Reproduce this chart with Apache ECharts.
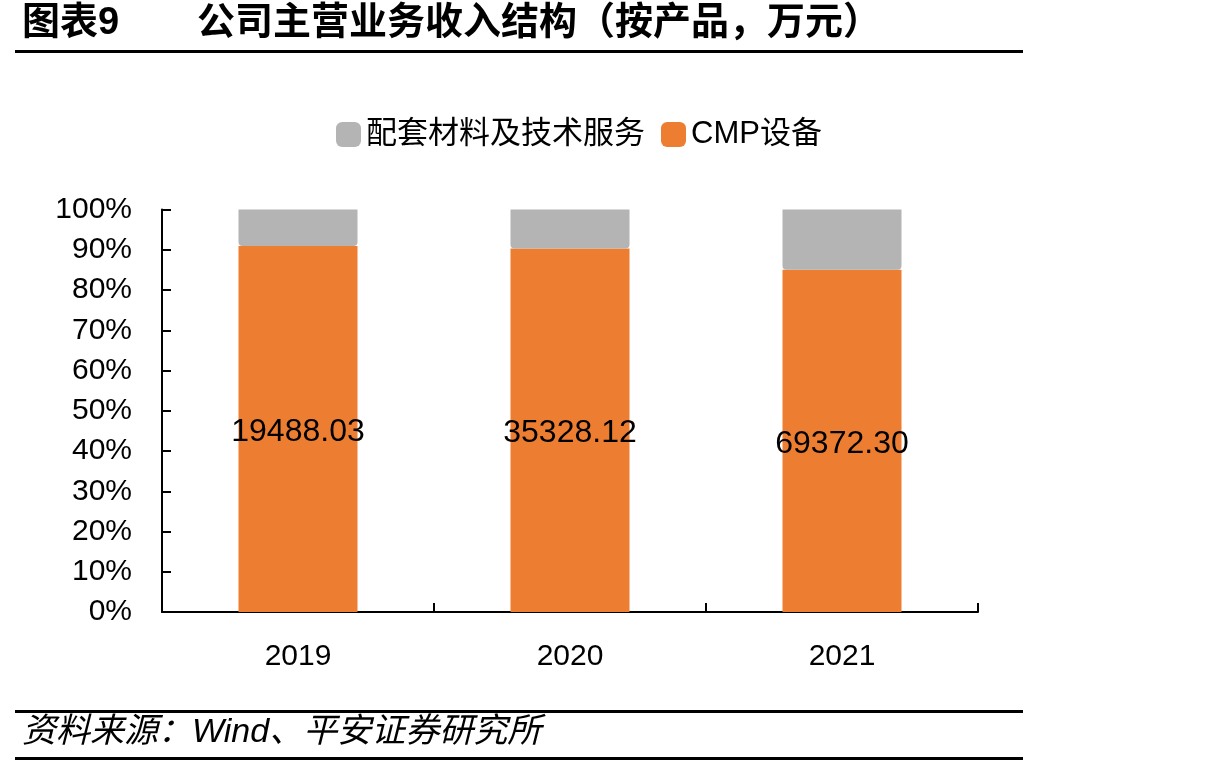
<!DOCTYPE html>
<html>
<head>
<meta charset="utf-8">
<script src="https://cdn.jsdelivr.net/npm/echarts@6/dist/echarts.min.js"></script>
<style>
  html, body { margin: 0; padding: 0; background: #fff; }
  #main { width: 1214px; height: 768px; }
</style>
</head>
<body>
<div id="main"></div>
<script>
// 年份
const years = ['2019', '2020', '2021'];
// CMP设备收入（万元）
const cmpValues = [19488.03, 35328.12, 69372.30];
// 配套材料及技术服务收入（万元，按图估算）
const otherValues = [1950, 3790, 12240];

const totals = years.map((_, i) => cmpValues[i] + otherValues[i]);
const cmpPct = cmpValues.map((v, i) => v / totals[i] * 100);
const otherPct = otherValues.map((v, i) => v / totals[i] * 100);

const CJK = '"Liberation Sans", Arial, "Noto Sans CJK SC", sans-serif';

const chart = echarts.init(document.getElementById('main'));
chart.setOption({
  animation: false,
  textStyle: { fontFamily: CJK, color: '#000' },
  legend: {
    data: ['配套材料及技术服务', 'CMP设备'],
    top: 114,
    left: 331,
    itemWidth: 25,
    itemHeight: 25,
    itemGap: 16,
    textStyle: { fontSize: 31, color: '#000', fontFamily: CJK }
  },
  grid: { left: 162, right: 236, top: 209.5, bottom: 156 },
  xAxis: {
    type: 'category',
    data: years,
    axisLine: { lineStyle: { color: '#000', width: 2 } },
    axisTick: { show: true, inside: true, length: 9, interval: 0, lineStyle: { color: '#000', width: 2 } },
    axisLabel: { fontSize: 30, color: '#000', margin: 30 }
  },
  yAxis: {
    type: 'value',
    min: 0,
    max: 100,
    interval: 10,
    splitLine: { show: false },
    axisLine: { show: true, lineStyle: { color: '#000', width: 2 } },
    axisTick: { show: true, inside: true, length: 9, lineStyle: { color: '#000', width: 2 } },
    axisLabel: { fontSize: 30, color: '#000', margin: 30, formatter: '{value}%' }
  },
  series: [
    {
      name: 'CMP设备',
      type: 'bar',
      stack: 'total',
      barWidth: 119,
      data: cmpPct,
      itemStyle: { color: '#ED7D31' },
      label: {
        show: true,
        position: 'inside',
        offset: [0, 3],
        fontSize: 32,
        color: '#000',
        formatter: (p) => cmpValues[p.dataIndex].toFixed(2)
      }
    },
    {
      name: '配套材料及技术服务',
      type: 'bar',
      stack: 'total',
      barWidth: 119,
      data: otherPct,
      itemStyle: { color: '#B4B4B4', borderRadius: [0, 0, 4, 4] }
    }
  ],
  graphic: [
    {
      type: 'text', left: 22, top: 5,
      style: { text: '图表9', fontSize: 38, fontWeight: 'bold', fill: '#000', fontFamily: CJK }
    },
    {
      type: 'text', left: 197, top: 5,
      style: { text: '公司主营业务收入结构（按产品，万元）', fontSize: 38, fontWeight: 'bold', fill: '#000', fontFamily: CJK }
    },
    {
      type: 'rect', shape: { x: 15, y: 50, width: 1008, height: 3 },
      style: { fill: '#000' }
    },
    {
      type: 'rect', shape: { x: 15, y: 710, width: 1008, height: 3 },
      style: { fill: '#000' }
    },
    {
      type: 'text', left: 22, top: 716,
      style: { text: '资料来源：Wind、平安证券研究所', fontSize: 34, fontStyle: 'italic', fill: '#000', fontFamily: CJK }
    },
    {
      type: 'rect', shape: { x: 15, y: 757, width: 1008, height: 3 },
      style: { fill: '#000' }
    }
  ]
});
</script>
</body>
</html>
